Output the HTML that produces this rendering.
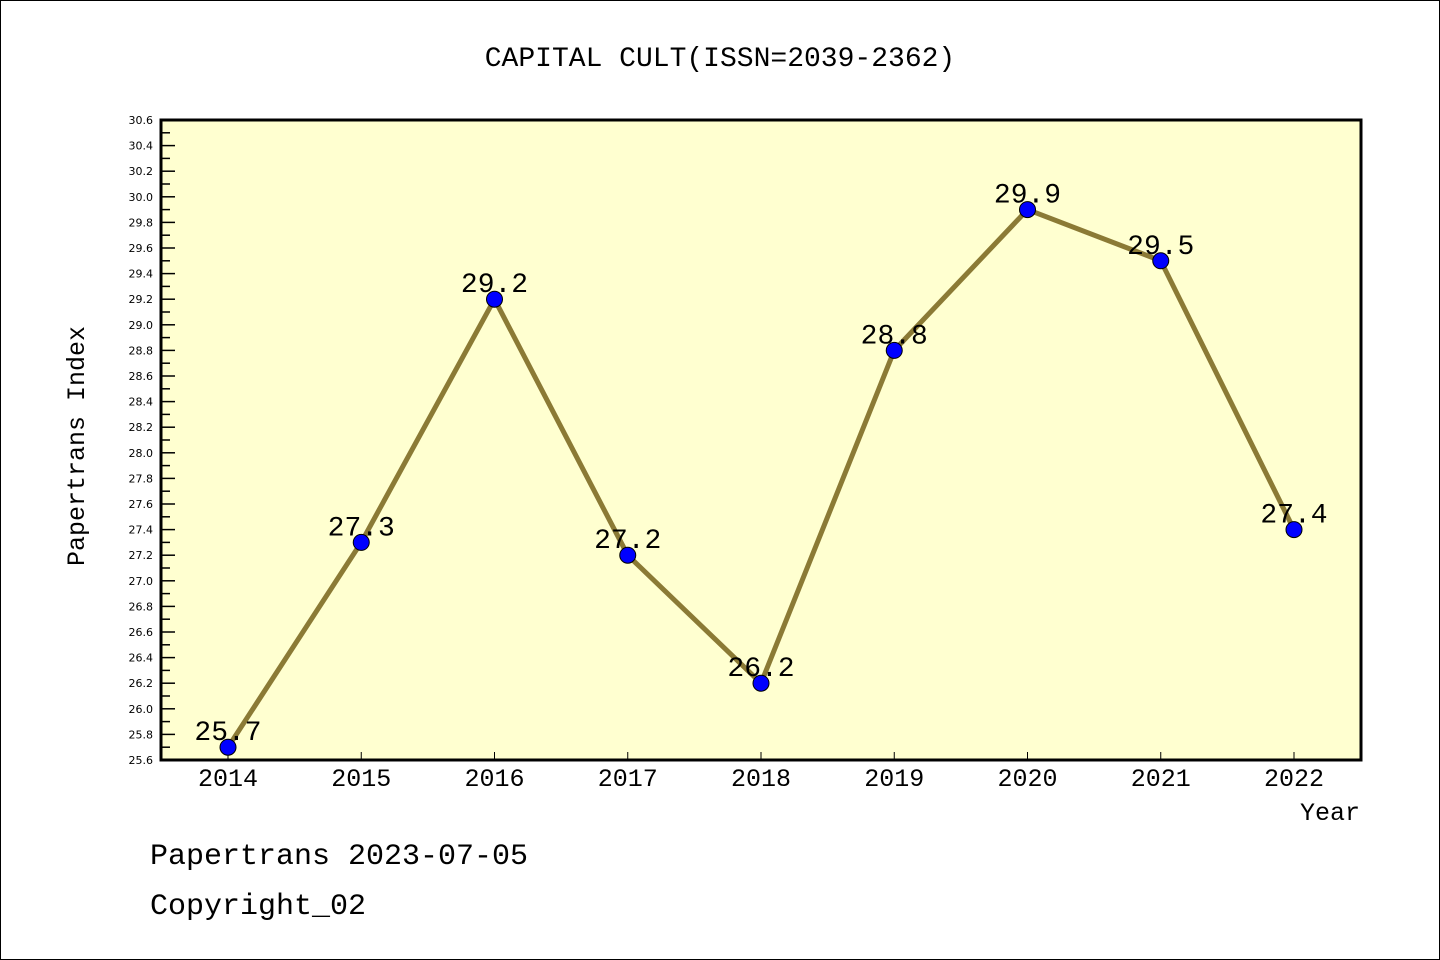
<!DOCTYPE html>
<html><head><meta charset="utf-8"><style>
body{margin:0;background:#fff}
svg{display:block}
text{font-family:"Liberation Mono","WenQuanYi Zen Hei Mono",monospace;fill:#000}
.tk{font-family:"DejaVu Sans","Liberation Sans",sans-serif}
</style></head><body>
<svg id="chart" width="1440" height="960">
<rect x="0.5" y="0.5" width="1439" height="959" fill="#fff" stroke="#000"/>
<text x="720" y="66" text-anchor="middle" font-size="28">CAPITAL CULT(ISSN=2039-2362)</text>
<rect x="161" y="120" width="1200" height="640" fill="#ffffd0"/>
<g id="yaxis"></g><g id="xaxis"></g><g id="series"></g>
<rect x="161" y="120" width="1200" height="640" fill="none" stroke="#000" stroke-width="3"/>
<text x="84" y="446" text-anchor="middle" font-size="25" transform="rotate(-90 84 446)">Papertrans Index</text>
<text x="1360" y="820" text-anchor="end" font-size="25">Year</text>
<text x="150" y="864" font-size="30">Papertrans 2023-07-05</text>
<text x="150" y="914" font-size="30">Copyright_02</text>
</svg>
<script>
const years=["2014","2015","2016","2017","2018","2019","2020","2021","2022"];
const values=[25.7,27.3,29.2,27.2,26.2,28.8,29.9,29.5,27.4];
const yMin=25.6,yMax=30.6;
const NS="http://www.w3.org/2000/svg";
const L=161,R=1361,T=120,B=760;
const x0=228,dx=133.25;
function xs(i){return x0+i*dx;}
function ys(v){return B-(v-yMin)/(yMax-yMin)*(B-T);}
function mk(tag,at,parent){const e=document.createElementNS(NS,tag);for(const k in at)e.setAttribute(k,at[k]);document.getElementById(parent).appendChild(e);return e;}
for(let k=0;k<=50;k++){
 const v=yMin+k*0.1;const y=ys(v);const major=k%2===0;
 const t=mk("line",{x1:L,x2:L+(major?14:9),y1:y,y2:y,stroke:"#000","stroke-width":1.5},"yaxis");
 
 
 if(major){const lb=mk("text",{x:153,y:y+4,"text-anchor":"end","font-size":11,"class":"tk"},"yaxis");lb.textContent=v.toFixed(1);
 
 }
}
years.forEach((yr,i)=>{
 const x=xs(i);
 const t=mk("line",{x1:x,x2:x,y1:B,y2:B-8,stroke:"#000","stroke-width":1},"xaxis");
 
 
 const lb=mk("text",{x:x,y:786,"text-anchor":"middle","font-size":25},"xaxis");lb.textContent=yr;
 
 
});
const pts=values.map((v,i)=>xs(i)+","+ys(v)).join(" ");
const pl=mk("polyline",{points:pts,fill:"none",stroke:"#8b7a35","stroke-width":5,"stroke-linejoin":"round"},"series");


values.forEach((v,i)=>{
 const c=mk("circle",{cx:xs(i),cy:ys(v),r:8,fill:"#0000ff",stroke:"#000","stroke-width":1},"series");
 
 
 const lb=mk("text",{x:xs(i),y:ys(v)-7,"text-anchor":"middle","font-size":28},"series");lb.textContent=v.toFixed(1);
 
 
});
</script>
</body></html>
